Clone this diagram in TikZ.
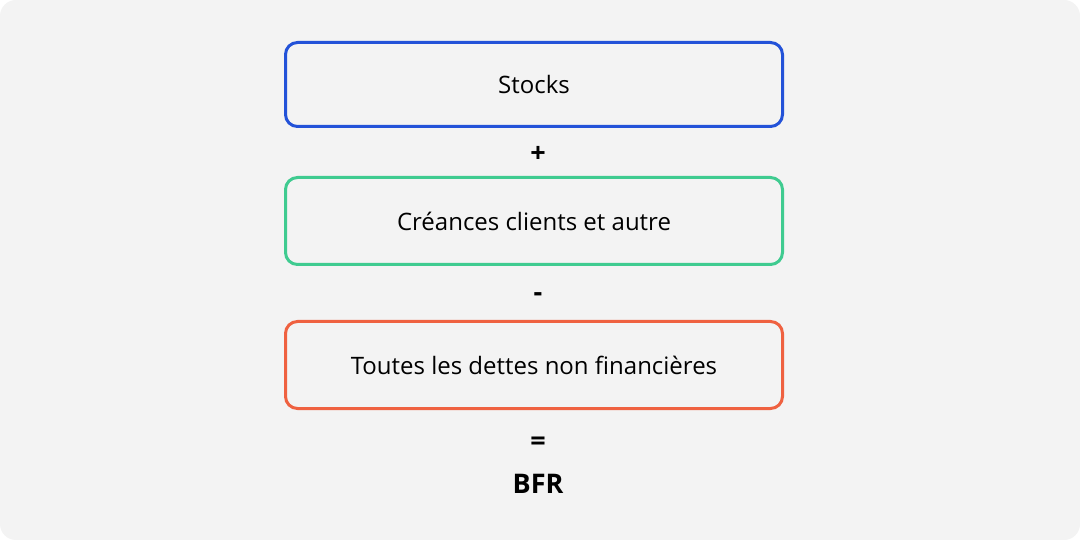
\documentclass[tikz,border=0pt]{standalone}
\usepackage{fontspec}
\setmainfont{Open Sans}
\usetikzlibrary{positioning}
\definecolor{fond}{HTML}{F3F3F3}
\definecolor{bleu}{HTML}{2352D8}
\definecolor{vert}{HTML}{3FCB90}
\definecolor{rouge}{HTML}{EF6140}
\begin{document}
\begin{tikzpicture}[x=1pt, y=1pt,
				poste/.style={rectangle, rounded corners=12pt, line width=3pt, fill=fond, minimum width=497pt, minimum height=87pt, font=\fontsize{24}{28}\selectfont},
				signe/.style={font=\fontsize{27}{32}\selectfont\bfseries, inner sep=0pt, xshift=4pt}
			]
			\fill[white] (0,0) rectangle (1080,-540);
			\fill[fond, rounded corners=16pt] (0,0) rectangle (1080,-540);
			\useasboundingbox (0,0) rectangle (1080,-540);
			\node[poste, draw=bleu, minimum height=84pt] (stocks) at (534,-84.5) {Stocks};
			\node[signe, below=26pt of stocks, anchor=center] (plus) {+};
			\node[poste, draw=vert, below=48pt of stocks] (creances) {Créances clients et autre};
			\node[signe, below=31pt of creances, anchor=center] (moins) {-};
			\node[poste, draw=rouge, below=54pt of creances] (dettes) {Toutes les dettes non financières};
			\node[signe, below=34pt of dettes, anchor=center] (egal) {=};
			\node[signe, below=74pt of dettes, anchor=center] (bfr) {BFR};
			\end{tikzpicture}
\end{document}
